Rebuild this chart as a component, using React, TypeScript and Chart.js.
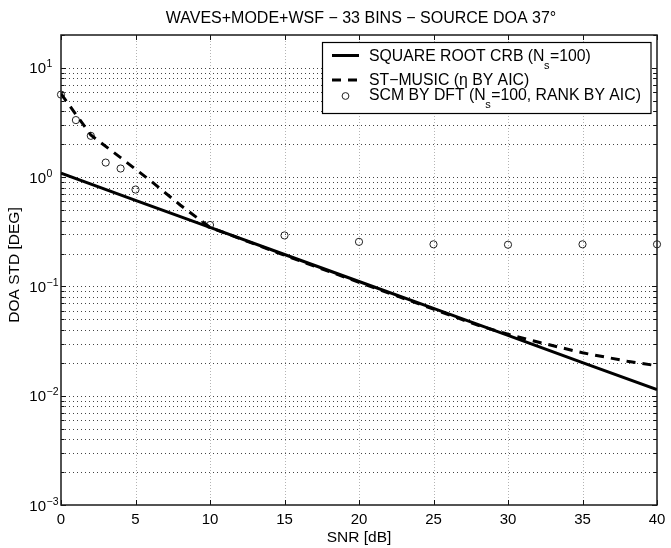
import React, { useEffect, useRef } from "react";
import { Chart, registerables } from "chart.js";

Chart.register(...registerables);

// ---- data ----
const crbSnr = [0, 5, 10, 15, 20, 25, 30, 35, 40];
const crbStd = [1.09, 0.614, 0.347, 0.196, 0.111, 0.0629, 0.0356, 0.0201, 0.0114];

const musicSnr = [0, 2, 4, 6, 8, 10, 15, 20, 25, 28, 30, 32, 35, 38, 40];
const musicStd = [5.8, 2.43, 1.51, 0.93, 0.556, 0.347, 0.193, 0.109, 0.062, 0.044, 0.0365, 0.031, 0.0247, 0.0207, 0.0188];

const scmSnr = [0, 1, 2, 3, 4, 5, 10, 15, 20, 25, 30, 35, 40];
const scmStd = [5.7, 3.33, 2.39, 1.36, 1.2, 0.77, 0.365, 0.293, 0.256, 0.243, 0.241, 0.243, 0.243];

const xTicks = [0, 5, 10, 15, 20, 25, 30, 35, 40];
const yDecades = [0.001, 0.01, 0.1, 1, 10];
const yDecadeExponents = ["\u22123", "\u22122", "\u22121", "0", "1"];
const yMinorMultipliers = [2, 3, 4, 5, 6, 7, 8, 9];

const xMin = 0;
const xMax = 40;
const yMin = 0.001;
const yMax = 20;

const titleText = "WAVES+MODE+WSF \u2212 33 BINS \u2212 SOURCE DOA 37\u00B0";
const xLabel = "SNR [dB]";
const yLabel = "DOA STD [DEG]";

const FONT = '"Liberation Sans", Arial, Helvetica, sans-serif';

function allYGrid(): { v: number; major: boolean }[] {
  const out: { v: number; major: boolean }[] = [];
  for (const d of yDecades) {
    out.push({ v: d, major: true });
    for (const m of yMinorMultipliers) out.push({ v: d * m, major: false });
  }
  out.push({ v: 20, major: false });
  return out.filter((t) => t.v >= yMin - 1e-12 && t.v <= yMax + 1e-9);
}

const decorPlugin = {
  id: "decor",
  beforeDatasetsDraw(chart: any) {
    const { ctx, chartArea: a, scales } = chart;
    const xs = scales.x;
    const ys = scales.y;
    ctx.save();
    // vertical dotted grid
    ctx.lineWidth = 1;
    ctx.strokeStyle = "#b4b4b4";
    ctx.setLineDash([1, 2]);
    for (const t of xTicks) {
      if (t === xMin || t === xMax) continue;
      const px = Math.round(xs.getPixelForValue(t)) + 0.5;
      ctx.beginPath();
      ctx.moveTo(px, a.top);
      ctx.lineTo(px, a.bottom);
      ctx.stroke();
    }
    // horizontal dotted grid
    ctx.strokeStyle = "#444";
    ctx.setLineDash([1, 3]);
    for (const g of allYGrid()) {
      if (g.v <= yMin * 1.0001 || g.v >= yMax * 0.9999) continue;
      const py = Math.round(ys.getPixelForValue(g.v)) + 0.5;
      ctx.beginPath();
      ctx.moveTo(a.left, py);
      ctx.lineTo(a.right, py);
      ctx.stroke();
    }
    ctx.setLineDash([]);
    // inward ticks
    ctx.strokeStyle = "#111";
    ctx.lineWidth = 1;
    for (const t of xTicks) {
      const px = Math.round(xs.getPixelForValue(t)) + 0.5;
      ctx.beginPath();
      ctx.moveTo(px, a.bottom);
      ctx.lineTo(px, a.bottom - 5);
      ctx.moveTo(px, a.top);
      ctx.lineTo(px, a.top + 5);
      ctx.stroke();
    }
    for (const g of allYGrid()) {
      const py = Math.round(ys.getPixelForValue(g.v)) + 0.5;
      const len = g.major ? 5 : 3.5;
      ctx.beginPath();
      ctx.moveTo(a.left, py);
      ctx.lineTo(a.left + len, py);
      ctx.moveTo(a.right, py);
      ctx.lineTo(a.right - len, py);
      ctx.stroke();
    }
    // frame
    ctx.strokeStyle = "#1a1a1a";
    ctx.lineWidth = 1.5;
    ctx.strokeRect(a.left, a.top, a.right - a.left, a.bottom - a.top);

    // text
    ctx.fillStyle = "#000";
    // title
    ctx.font = `16px ${FONT}`;
    ctx.textAlign = "center";
    ctx.textBaseline = "alphabetic";
    ctx.fillText(titleText, (a.left + a.right) / 2 + 2, 22.5);
    // x tick labels
    ctx.font = `15px ${FONT}`;
    for (const t of xTicks) {
      const px = xs.getPixelForValue(t);
      ctx.fillText(String(t), px, 523.5);
    }
    // x label
    ctx.font = `15.5px ${FONT}`;
    ctx.fillText(xLabel, (a.left + a.right) / 2, 542);
    // y label
    ctx.save();
    ctx.translate(18.5, 265);
    ctx.rotate(-Math.PI / 2);
    ctx.fillText(yLabel, 0, 0);
    ctx.restore();
    // y tick labels
    yDecades.forEach((d, i) => {
      const py = ys.getPixelForValue(d);
      ctx.font = `15px ${FONT}`;
      ctx.textAlign = "right";
      ctx.fillText("10", 46, py + 5.5);
      ctx.font = `10.5px ${FONT}`;
      ctx.textAlign = "left";
      ctx.fillText(yDecadeExponents[i], 46.5, py - 0.5);
    });
    ctx.restore();
  },
  afterDatasetsDraw(chart: any) {
    const { ctx } = chart;
    ctx.save();
    // legend box
    const bx = 322.5, by = 42.5, bw = 328.5, bh = 71;
    ctx.fillStyle = "#fff";
    ctx.fillRect(bx, by, bw, bh);
    ctx.strokeStyle = "#000";
    ctx.lineWidth = 1.2;
    ctx.strokeRect(bx, by, bw, bh);

    const tx = 369;
    const mainFont = `15.8px ${FONT}`;
    const subFont = `11px ${FONT}`;
    ctx.fillStyle = "#000";
    ctx.textAlign = "left";
    ctx.textBaseline = "alphabetic";

    const drawWithSub = (pre: string, sub: string, post: string, base: number) => {
      ctx.font = mainFont;
      ctx.fillText(pre, tx, base);
      let w = ctx.measureText(pre).width;
      ctx.font = subFont;
      ctx.fillText(sub, tx + w - 0.5, base + 7.5);
      w += ctx.measureText(sub).width;
      ctx.font = mainFont;
      ctx.fillText(post, tx + w, base);
    };

    // row 1 solid
    ctx.strokeStyle = "#000";
    ctx.lineWidth = 3;
    ctx.beginPath();
    ctx.moveTo(332, 55.5);
    ctx.lineTo(359, 55.5);
    ctx.stroke();
    drawWithSub("SQUARE ROOT CRB (N", "s", "=100)", 61);

    // row 2 dashed
    ctx.setLineDash([9, 7]);
    ctx.beginPath();
    ctx.moveTo(332, 80);
    ctx.lineTo(359, 80);
    ctx.stroke();
    ctx.setLineDash([]);
    ctx.font = mainFont;
    ctx.fillText("ST\u2212MUSIC (\u03B7 BY AIC)", tx, 84.5);

    // row 3 circle
    ctx.lineWidth = 1;
    ctx.strokeStyle = "#222";
    ctx.beginPath();
    ctx.arc(345.5, 96, 3.4, 0, Math.PI * 2);
    ctx.stroke();
    drawWithSub("SCM BY DFT (N", "s", "=100, RANK BY AIC)", 100);
    ctx.restore();
  },
};

export default function App() {
  const canvasRef = useRef<HTMLCanvasElement | null>(null);

  useEffect(() => {
    const canvas = canvasRef.current;
    if (!canvas) return;
    const chart = new Chart(canvas, {
      type: "line",
      data: {
        datasets: [
          {
            label: "SQUARE ROOT CRB",
            data: crbSnr.map((x, i) => ({ x, y: crbStd[i] })),
            borderColor: "#000",
            borderWidth: 3,
            pointRadius: 0,
            tension: 0,
            fill: false,
          },
          {
            label: "ST-MUSIC",
            data: musicSnr.map((x, i) => ({ x, y: musicStd[i] })),
            borderColor: "#000",
            borderWidth: 3,
            borderDash: [9, 7],
            borderCapStyle: "butt",
            pointRadius: 0,
            tension: 0,
            fill: false,
          },
          {
            label: "SCM BY DFT",
            data: scmSnr.map((x, i) => ({ x, y: scmStd[i] })),
            showLine: false,
            pointStyle: "circle",
            pointRadius: 3.6,
            borderWidth: 1,
            borderColor: "#222",
            backgroundColor: "rgba(0,0,0,0)",
            clip: false as any,
          },
        ],
      },
      options: {
        responsive: false,
        animation: false,
        devicePixelRatio: 1,
        events: [],
        layout: { padding: { left: 61, right: 14, top: 35, bottom: 43 } },
        scales: {
          x: { type: "linear", min: xMin, max: xMax, display: false },
          y: { type: "logarithmic", min: yMin, max: yMax, display: false },
        },
        plugins: {
          legend: { display: false },
          tooltip: { enabled: false },
          title: { display: false },
        },
      },
      plugins: [decorPlugin],
    });
    return () => chart.destroy();
  }, []);

  return (
    <div style={{ position: "absolute", left: 0, top: 0, width: 671, height: 548, background: "#fff" }}>
      <canvas ref={canvasRef} width={671} height={548} style={{ display: "block" }} />
    </div>
  );
}
